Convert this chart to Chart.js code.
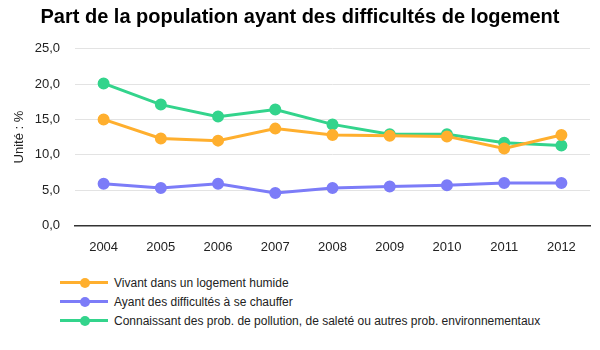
<!DOCTYPE html>
<html><head><meta charset="utf-8">
<script src="https://cdn.jsdelivr.net/npm/chart.js@4/dist/chart.umd.min.js"></script>
<style>
html,body{margin:0;padding:0;background:#fff;}
#wrap{position:relative;width:600px;height:350px;font-family:"Liberation Sans",Arial,sans-serif;}
#title{position:absolute;left:0;top:5px;width:600px;text-align:center;font-weight:bold;font-size:20px;color:#000;z-index:2;}
#cv{position:absolute;left:0;top:26px;}
#legend{position:absolute;left:60px;top:273px;font-size:12px;color:#222;}
.li{height:19px;display:flex;align-items:center;}
.mk{position:relative;width:48px;height:3px;margin-right:6px;}
.mk i{position:absolute;left:19.5px;top:-3.5px;width:10px;height:10px;border-radius:50%;}
</style></head>
<body>
<div id="wrap">
<div id="title">Part de la population ayant des difficultés de logement</div>
<canvas id="cv" width="600" height="243"></canvas>
<div id="legend"></div>
</div>
<script>
const years = ['2004','2005','2006','2007','2008','2009','2010','2011','2012'];
const humide = [15.0, 12.3, 12.0, 13.7, 12.8, 12.7, 12.6, 10.9, 12.8];
const chauffer = [5.9, 5.3, 5.9, 4.6, 5.3, 5.5, 5.7, 6.0, 6.0];
const pollution = [20.1, 17.1, 15.4, 16.4, 14.3, 12.9, 12.9, 11.7, 11.3];
const seriesNames = ['Vivant dans un logement humide','Ayant des difficultés à se chauffer','Connaissant des prob. de pollution, de saleté ou autres prob. environnementaux'];
const colors = ['#FFAF2E','#7C7CF8','#33D48C'];
const yTitle = 'Unité : %';

const ds = [humide, chauffer, pollution].map((d,i)=>({
  label: seriesNames[i], data: d, borderColor: colors[i], backgroundColor: colors[i],
  borderWidth: 3, pointRadius: 4.5, pointHoverRadius: 4.5, tension: 0
}));

const chart = new Chart(document.getElementById('cv'), {
  type: 'line',
  data: { labels: years, datasets: ds },
  options: {
    responsive: false, animation: false,
    layout: { padding: { left: 0, right: 10, top: 3, bottom: 0 } },
    plugins: { legend: { display: false }, tooltip: { enabled: false } },
    scales: {
      x: {
        offset: true,
        grid: { display: false, drawTicks: false },
        border: { display: true, color: '#333', width: 1.5 },
        ticks: { color: '#222', font: { size: 13, family: '"Liberation Sans", Arial' }, padding: 14 }
      },
      y: {
        min: 0, max: 25,
        afterFit: s => { s.width = 75; },
        ticks: { stepSize: 5, color: '#222', padding: 15, font: { size: 13, family: '"Liberation Sans", Arial' },
          callback: v => v.toFixed(1).replace('.', ',') },
        grid: { color: '#e3e3e3', drawTicks: false },
        border: { display: false },
        title: { display: true, text: yTitle, color: '#222', font: { size: 13, family: '"Liberation Sans", Arial' }, padding: { top: 12, bottom: 0 } }
      }
    }
  }
});

const lg = document.getElementById('legend');
chart.data.datasets.forEach(d => {
  const row = document.createElement('div'); row.className = 'li';
  const mk = document.createElement('span'); mk.className = 'mk'; mk.style.background = d.borderColor;
  const dot = document.createElement('i'); dot.style.background = d.borderColor; mk.appendChild(dot);
  const tx = document.createElement('span'); tx.textContent = d.label;
  row.appendChild(mk); row.appendChild(tx); lg.appendChild(row);
});
</script>
</body></html>
